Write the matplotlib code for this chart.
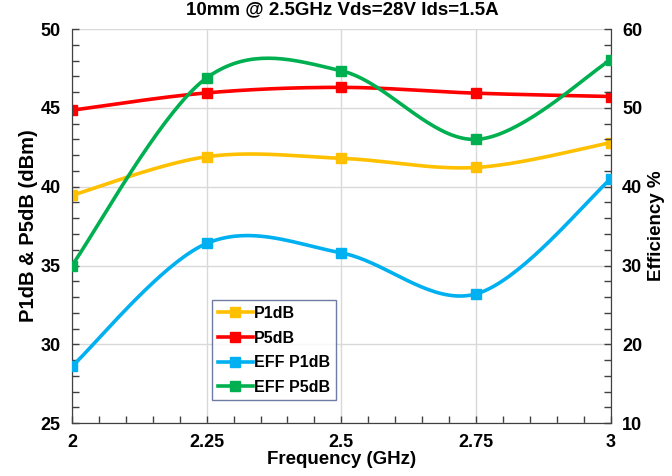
import numpy as np
import matplotlib.pyplot as plt
from matplotlib.ticker import MultipleLocator

plt.rcParams['font.family'] = ['Liberation Sans', 'DejaVu Sans']
plt.rcParams['font.weight'] = 'bold'

freq = [2.0, 2.25, 2.5, 2.75, 3.0]
p1db = [39.45, 41.9, 41.8, 41.22, 42.8]
p5db = [44.85, 45.95, 46.3, 45.93, 45.72]
eff_p1db = [17.2, 32.8, 31.6, 26.4, 41.0]
eff_p5db = [30.0, 53.8, 54.7, 46.0, 56.1]
title = '10mm @ 2.5GHz Vds=28V Ids=1.5A'


def smooth(x, y, ylo, yhi, n=40):
    # Excel-style smoothed line (Bezier through points), done in plot-box units
    x = np.asarray(x, float)
    y = np.asarray(y, float)
    sx = (x - x[0]) / (x[-1] - x[0]) * 539
    sy = (y - ylo) / (yhi - ylo) * 394
    P = np.column_stack([sx, sy])
    Pe = np.vstack([P[0], P, P[-1]])
    out = []
    t = np.linspace(0, 1, n)[:, None]
    for i in range(len(P) - 1):
        p0, p1, p2, p3 = Pe[i], Pe[i + 1], Pe[i + 2], Pe[i + 3]
        c1 = p1 + (p2 - p0) / 6
        c2 = p2 - (p3 - p1) / 6
        seg = ((1 - t) ** 3) * p1 + 3 * ((1 - t) ** 2) * t * c1 + 3 * (1 - t) * t ** 2 * c2 + t ** 3 * p2
        out.append(seg)
    out = np.vstack(out)
    xs = out[:, 0] / 539 * (x[-1] - x[0]) + x[0]
    ys = out[:, 1] / 394 * (yhi - ylo) + ylo
    return xs, ys


fig, ax = plt.subplots(figsize=(6.72, 4.76), dpi=100)
fig.subplots_adjust(left=0.107, right=0.909, top=0.939, bottom=0.111)
ax2 = ax.twinx()

lw = 2.6
ms = 6.5
series = [
    (ax, p1db, '#FFC000', 'P1dB', 25, 50),
    (ax, p5db, '#FF0000', 'P5dB', 25, 50),
    (ax2, eff_p1db, '#00B0F0', 'EFF P1dB', 10, 60),
    (ax2, eff_p5db, '#00B050', 'EFF P5dB', 10, 60),
]
handles = []
for a, vals, col, lab, lo, hi in series:
    xs, ys = smooth(freq, vals, lo, hi)
    a.plot(xs, ys, color=col, lw=lw, zorder=3)
    a.plot(freq, vals, ls='none', marker='s', ms=ms, color=col, zorder=4)
    h, = ax.plot([], [], color=col, lw=lw, marker='s', ms=ms, label=lab)
    handles.append(h)

ax.set_xlim(2, 3)
ax.set_ylim(25, 50)
ax2.set_ylim(10, 60)
ax.xaxis.set_major_locator(MultipleLocator(0.25))
ax.xaxis.set_minor_locator(MultipleLocator(0.05))
ax.yaxis.set_major_locator(MultipleLocator(5))
ax.yaxis.set_minor_locator(MultipleLocator(1))
ax2.yaxis.set_major_locator(MultipleLocator(10))
ax2.yaxis.set_minor_locator(MultipleLocator(2))
ax.set_xticks(freq)
ax.set_xticklabels(['2', '2.25', '2.5', '2.75', '3'])

ax.grid(True, which='major', color='#D9D9D9', lw=1)
ax.set_axisbelow(True)

for a in (ax, ax2):
    a.tick_params(which='both', direction='in', labelsize=13, width=1, color='#404040')
    a.tick_params(which='major', length=5)
    a.tick_params(which='minor', length=5)
    a.spines['top'].set_visible(False)
    for s in a.spines.values():
        s.set_color('#404040')
ax.tick_params(axis='x', pad=8)
ax.tick_params(axis='y', pad=8)
ax2.tick_params(axis='y', pad=8)

ax.set_xlabel('Frequency (GHz)', fontsize=13.5, fontweight='bold', labelpad=0)
ax.set_ylabel('P1dB & P5dB (dBm)', fontsize=14.5, fontweight='bold', labelpad=2)
ax2.set_ylabel('Efficiency %', fontsize=13.5, fontweight='bold', labelpad=4)
fig.text(342 / 672, 1 - 10 / 476, title, fontsize=13.5, fontweight='bold',
         ha='center', va='center')

leg = ax2.legend(handles=handles, loc='lower left', bbox_to_anchor=(0.26, 0.058),
                 borderaxespad=0, fontsize=11.5, frameon=True, fancybox=False,
                 borderpad=0.35, handlelength=2.2, handletextpad=0.1,
                 labelspacing=0.6)
leg.get_frame().set_edgecolor('#4A5B8C')
leg.get_frame().set_linewidth(1)
for t in leg.get_texts():
    t.set_fontweight('bold')

fig.savefig('out.png', dpi=100)
